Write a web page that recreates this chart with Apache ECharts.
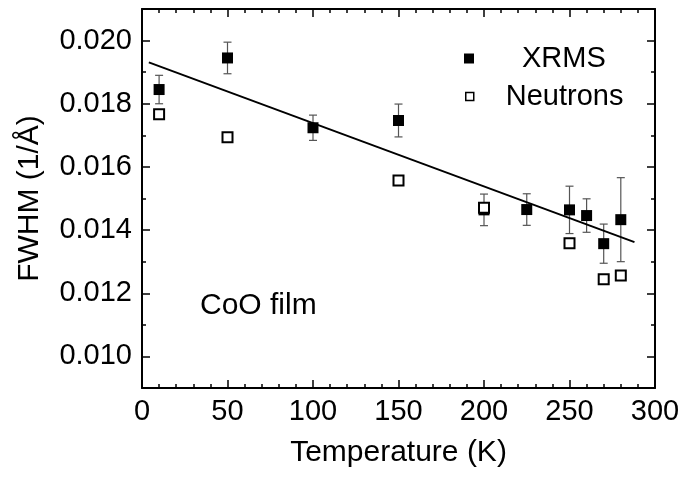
<!DOCTYPE html>
<html>
<head>
<meta charset="utf-8">
<script src="https://cdn.jsdelivr.net/npm/echarts@6/dist/echarts.min.js"></script>
<style>html,body{margin:0;padding:0;background:#fff}#c{width:683px;height:480px}</style>
</head>
<body>
<div id="c"></div>
<script>
var xrmsT = [10, 50, 100, 150, 200, 225, 250, 260, 270, 280];
var xrmsFWHM = [0.01845, 0.01945, 0.01724, 0.01747, 0.01464, 0.01465, 0.01464, 0.01446, 0.01357, 0.01433];
var xrmsErr = [0.00045, 0.0005, 0.0004, 0.00052, 0.0005, 0.0005, 0.00075, 0.00053, 0.00062, 0.00133];
var neutT = [10, 50, 150, 200, 250, 270, 280];
var neutFWHM = [0.01767, 0.01694, 0.01557, 0.01471, 0.01358, 0.01244, 0.01256];
var fitT = [4, 288];
var fitFWHM = [0.01931, 0.01362];
var yMajorTicks = [0.010, 0.012, 0.014, 0.016, 0.018, 0.020];
var yMinorTicks = [0.009, 0.011, 0.013, 0.015, 0.017, 0.019, 0.021];

var FONT = '"Liberation Sans", Arial, sans-serif';
var chart = echarts.init(document.getElementById('c'), null, {renderer: 'canvas'});

var xrmsData = xrmsT.map(function (t, i) { return [t, xrmsFWHM[i]]; });
var errData = xrmsT.map(function (t, i) { return [t, xrmsFWHM[i] - xrmsErr[i], xrmsFWHM[i] + xrmsErr[i]]; });
var neutData = neutT.map(function (t, i) { return [t, neutFWHM[i]]; });
var fitData = fitT.map(function (t, i) { return [t, fitFWHM[i]]; });

function yAxisBase(pos, custom, len, showLine) {
  return {
    type: 'value', position: pos, min: 0.009, max: 0.021,
    axisLine: {show: showLine, lineStyle: {color: '#000', width: 2}},
    axisTick: {show: true, inside: true, length: len, customValues: custom, lineStyle: {color: '#000', width: 1.5}},
    axisLabel: {show: false},
    splitLine: {show: false}
  };
}

var yLeft = yAxisBase('left', yMajorTicks, 8, true);
yLeft.axisLabel = {
  show: true, customValues: yMajorTicks, margin: 10,
  fontFamily: FONT, fontSize: 29, color: '#000',
  formatter: function (v) { return v.toFixed(3); }
};
yLeft.name = 'FWHM (1/Å)';
yLeft.nameLocation = 'middle';
yLeft.nameGap = 97;
yLeft.nameTextStyle = {fontFamily: FONT, fontSize: 30, color: '#000'};

function xAxisBase(pos, showLabel) {
  return {
    type: 'value', position: pos, min: 0, max: 300, interval: 50,
    axisLine: {show: true, lineStyle: {color: '#000', width: 2}},
    axisTick: {show: true, inside: true, length: 8, lineStyle: {color: '#000', width: 1.5}},
    minorTick: {show: true, splitNumber: 5, length: 4, lineStyle: {color: '#000', width: 1.5}},
    axisLabel: {show: showLabel, margin: 9, fontFamily: FONT, fontSize: 29, color: '#000'},
    splitLine: {show: false}, minorSplitLine: {show: false}
  };
}
var xBottom = xAxisBase('bottom', true);
xBottom.name = 'Temperature (K)';
xBottom.nameLocation = 'middle';
xBottom.nameGap = 50;
xBottom.nameTextStyle = {fontFamily: FONT, fontSize: 30, color: '#000'};

var option = {
  backgroundColor: '#fff',
  animation: false,
  grid: {left: 142, right: 28, top: 9, bottom: 92, containLabel: false},
  xAxis: [xBottom, xAxisBase('top', false)],
  yAxis: [
    yLeft,
    yAxisBase('left', yMinorTicks, 4, false),
    yAxisBase('right', yMajorTicks, 8, true),
    yAxisBase('right', yMinorTicks, 4, false)
  ],
  legend: [
    {
      left: 464, top: 44, padding: 0, itemWidth: 10, itemHeight: 10,
      data: [{name: 'XRMS', icon: 'rect', itemStyle: {color: '#000', borderWidth: 0}}],
      textStyle: {fontFamily: FONT, fontSize: 29, color: '#000', padding: [0, 0, 0, 43]}
    },
    {
      left: 465, top: 82, padding: 0, itemWidth: 8, itemHeight: 8,
      data: [{name: 'Neutrons', icon: 'rect', itemStyle: {color: '#fff', borderColor: '#000', borderWidth: 1.5}}],
      textStyle: {fontFamily: FONT, fontSize: 29, color: '#000', padding: [0, 0, 0, 27]}
    }
  ],
  graphic: [{
    type: 'text', left: 200, top: 291, silent: true,
    style: {text: 'CoO film', font: '30px ' + FONT, fill: '#000'}
  }],
  series: [
    {
      name: 'errors', type: 'custom', xAxisIndex: 0, yAxisIndex: 0, z: 2,
      data: errData,
      renderItem: function (params, api) {
        var x = api.value(0), lo = api.value(1), hi = api.value(2);
        var pLo = api.coord([x, lo]), pHi = api.coord([x, hi]);
        var cap = 4;
        var st = {stroke: '#555', lineWidth: 1.2};
        return {
          type: 'group',
          children: [
            {type: 'line', shape: {x1: pLo[0], y1: pLo[1], x2: pHi[0], y2: pHi[1]}, style: st},
            {type: 'line', shape: {x1: pLo[0] - cap, y1: pLo[1], x2: pLo[0] + cap, y2: pLo[1]}, style: st},
            {type: 'line', shape: {x1: pHi[0] - cap, y1: pHi[1], x2: pHi[0] + cap, y2: pHi[1]}, style: st}
          ]
        };
      }
    },
    {
      name: 'XRMS', type: 'scatter', xAxisIndex: 0, yAxisIndex: 0, z: 3,
      symbol: 'rect', symbolSize: 11, data: xrmsData,
      itemStyle: {color: '#000', opacity: 1}
    },
    {
      name: 'Neutrons', type: 'scatter', xAxisIndex: 0, yAxisIndex: 0, z: 4,
      symbol: 'rect', symbolSize: 10, data: neutData,
      itemStyle: {color: '#fff', borderColor: '#000', borderWidth: 2, opacity: 1}
    },
    {
      name: 'fit', type: 'line', xAxisIndex: 0, yAxisIndex: 0, z: 5,
      data: fitData, showSymbol: false, symbol: 'none',
      lineStyle: {color: '#000', width: 2}
    }
  ]
};
chart.setOption(option);
</script>
</body>
</html>
